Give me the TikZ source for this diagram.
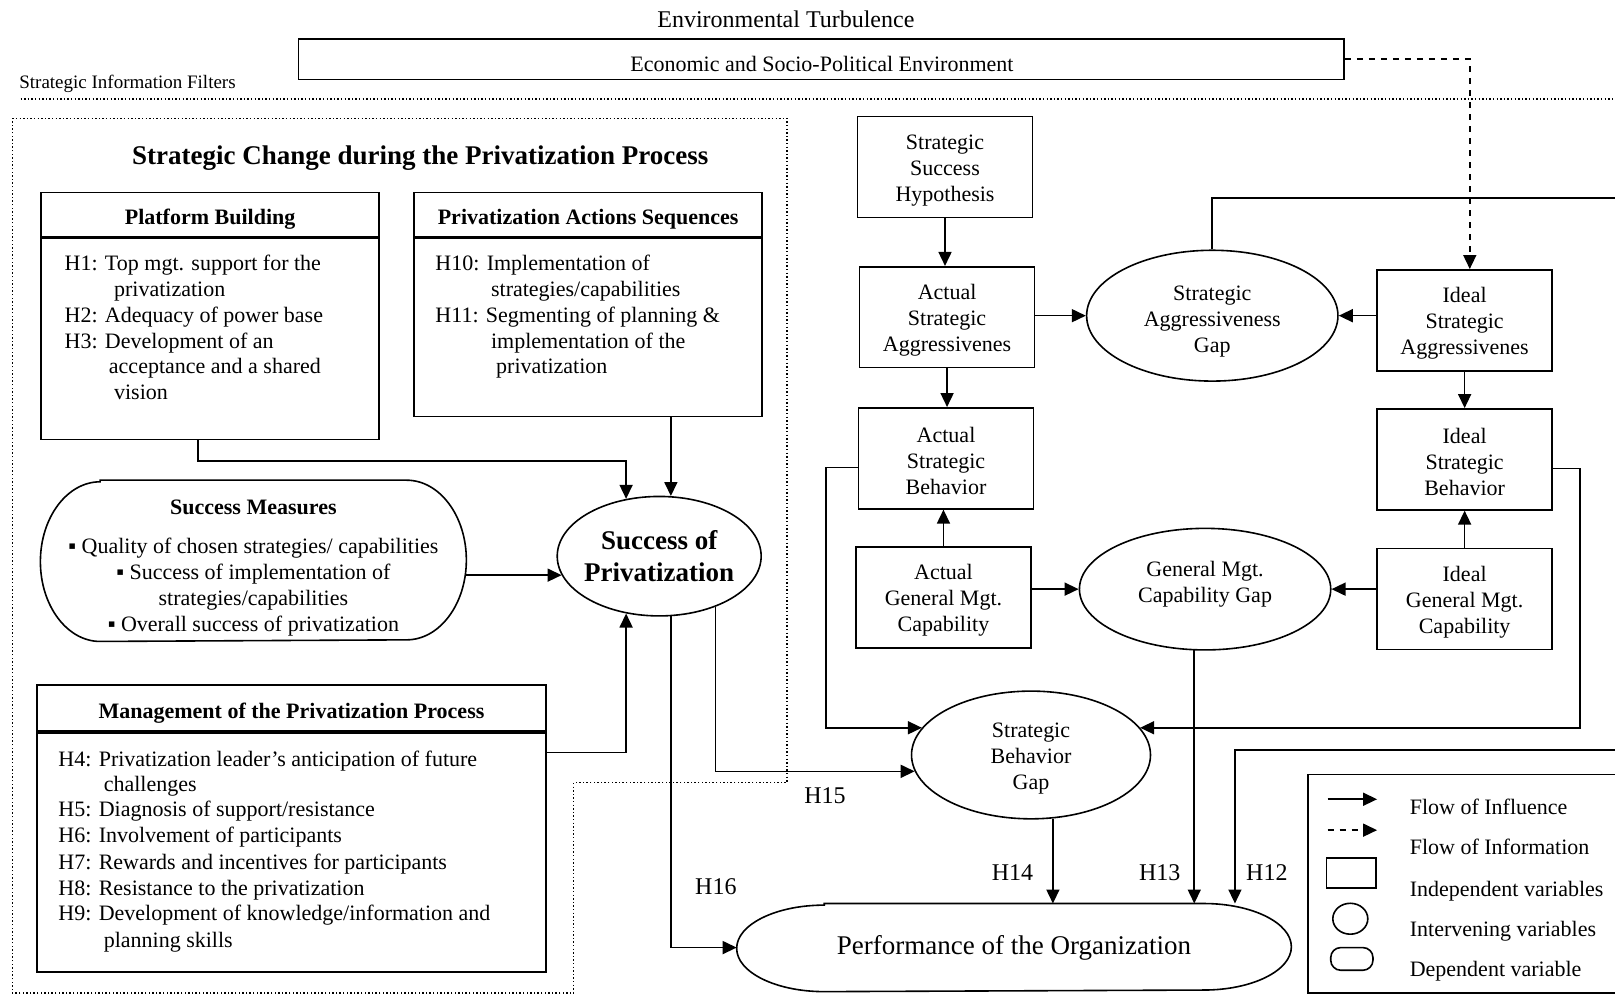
\documentclass[tikz,border=0pt]{standalone}
\usepackage{fontspec}
\setmainfont{Liberation Serif}
\usetikzlibrary{shapes.geometric, arrows.meta}

% one pixel of the layout
\newcommand{\pxu}{0.515pt}
% taller first line, to set the text of a box a little lower
\newcommand{\hup}[1]{\rule{0pt}{#1}}
% outline with half-elliptic ends round an empty node: node, end width, half height
\newcommand{\depoval}[3]{%
    \draw ([xshift=#2]#1.north west) -- ([xshift=-#2]#1.north east)
        arc[start angle=90, end angle=-90, x radius=#2, y radius=#3]
        -- ([xshift=#2]#1.south west)
        arc[start angle=270, end angle=90, x radius=#2, y radius=#3] -- cycle;}

\begin{document}
\begin{tikzpicture}[x=\pxu, y=-\pxu, line width=0.8pt,
        >={Triangle[length=7pt, width=6.5pt]},
        font=\fontsize{11}{13}\selectfont,
        listline/.style={anchor=base west, inner sep=0},
        headbox/.style={draw, inner sep=0, text height=10.2pt, text depth=0pt,
            font=\fontsize{11}{13}\selectfont\bfseries},
        bodybox/.style={draw, inner sep=0, anchor=north},
        indep/.style={draw, inner sep=0, align=center,
            minimum width=170*\pxu, minimum height=98*\pxu},
        interv/.style={draw, ellipse, inner sep=0, align=center},
        hlab/.style={inner sep=0, font=\fontsize{12}{14}\selectfont},
        filterline/.style={line width=0.7pt, dash pattern=on 0.7pt off 1.1pt}]
        \useasboundingbox (0,0) rectangle (1568,967);
        \clip (0,0) rectangle (1568,967);

        % Environment on top
        \node[font=\fontsize{12}{14}\selectfont] (turb) at (763,19) {Environmental Turbulence};
        \node[draw, inner sep=0, minimum width=1015*\pxu, minimum height=39*\pxu] (env) at (797.5,57.5) {};
        \node (envt) at (798,62) {Economic and Socio-Political Environment};
        \node[anchor=west, inner sep=0, font=\fontsize{9.5}{11}\selectfont] (filt) at (18,81) {Strategic Information Filters};
        \draw[filterline] (20,96) -- (1568,96);

        % Dotted frame of the strategic change
        \draw[filterline] (12,115) -- (764,115) -- (764,760) -- (557,760) -- (557,964) -- (12,964) -- cycle;
        \node[font=\fontsize{13.5}{16}\selectfont\bfseries] (sctitle) at (408,154) {Strategic Change during the Privatization Process};

        % Platform Building
        \node[headbox, minimum width=328*\pxu, minimum height=43*\pxu] (pbh) at (204,208.5) {Platform Building};
        \node[bodybox, minimum width=328*\pxu, minimum height=195*\pxu] (pb) at (pbh.south) {};
        \foreach \n/\x/\y/\t in {
            1/62/263/{H1: Top mgt. support for the},
            2/110/288/{privatization},
            3/62/313/{H2: Adequacy of power base},
            4/62/338/{H3: Development of an},
            5/105/363/{acceptance and a shared},
            6/110/388/{vision}
        }
        \node[listline] (pb\n) at (\x,\y) {\t};

        % Privatization Actions Sequences
        \node[headbox, minimum width=338*\pxu, minimum height=43*\pxu] (pash) at (571,208.5) {Privatization Actions Sequences};
        \node[bodybox, minimum width=338*\pxu, minimum height=173*\pxu] (pas) at (pash.south) {};
        \foreach \n/\x/\y/\t in {
            1/422/263/{H10: Implementation of},
            2/476/288/{strategies/capabilities},
            3/422/313/{H11: Segmenting of planning \&},
            4/476/338/{implementation of the},
            5/481/363/{privatization}
        }
        \node[listline] (pas\n) at (\x,\y) {\t};

        % Success Measures
        \node[inner sep=0, minimum width=412*\pxu, minimum height=155*\pxu] (sm) at (246,544.5) {};
        \depoval{sm}{58*\pxu}{77.5*\pxu}
        \node[inner sep=0, align=center] (smt) at (246,551.5)
            {\textbf{Success Measures}\\[6.5pt]
             ▪ Quality of chosen strategies/ capabilities\\
             ▪ Success of implementation of\\
             strategies/capabilities\\
             ▪ Overall success of privatization};

        % Management of the Privatization Process
        \node[headbox, minimum width=494*\pxu, minimum height=45*\pxu] (mgh) at (283,687.5) {Management of the Privatization Process};
        \node[bodybox, minimum width=494*\pxu, minimum height=232*\pxu] (mg) at (mgh.south) {};
        \foreach \n/\x/\y/\t in {
            1/56/744/{H4: Privatization leader’s anticipation of future},
            2/100/768/{challenges},
            3/56/793/{H5: Diagnosis of support/resistance},
            4/56/818/{H6: Involvement of participants},
            5/56/844/{H7: Rewards and incentives for participants},
            6/56/869/{H8: Resistance to the privatization},
            7/56/894/{H9: Development of knowledge/information and},
            8/100/920/{planning skills}
        }
        \node[listline] (mg\n) at (\x,\y) {\t};

        % Success of Privatization
        \node[draw, ellipse, align=center, inner xsep=-4pt, inner ysep=0,
            minimum width=198*\pxu, minimum height=116*\pxu,
            font=\fontsize{13.5}{16}\selectfont\bfseries] (sp) at (640,540) {Success of\\Privatization};
        \draw[->] ([xshift=-12*\pxu]pb.south) -- ++(0,20) -| (sp.120);
        \draw[->] (pas.south -| sp.79) -- (sp.79);
        \draw[->] (sm.east |- sp.191) -- (sp.191);
        \draw[->] ([yshift=-20*\pxu]mg.north east) -| (sp.240);

        % Independent variables
        \node[indep] (ssh) at (917.5,162) {\hup{10.7pt}Strategic\\Success\\Hypothesis};
        \node[indep] (asa) at (919.5,308) {\hup{10.7pt}Actual\\Strategic\\Aggressivenes};
        \node[indep] (asb) at (918.5,445) {\hup{10.7pt}Actual\\Strategic\\Behavior};
        \node[indep] (agmc) at (916,580) {\hup{10.7pt}Actual\\General Mgt.\\Capability};
        \node[indep] (isa) at (1422,311) {\hup{10.7pt}Ideal\\Strategic\\Aggressivenes};
        \node[indep] (isb) at (1422,446) {\hup{10.7pt}Ideal\\Strategic\\Behavior};
        \node[indep] (igmc) at (1422,581.5) {\hup{10.7pt}Ideal\\General Mgt.\\Capability};

        % Intervening variables
        \node[interv, minimum width=244*\pxu, minimum height=127*\pxu] (sag) at (1177,306.5) {\hup{13.1pt}Strategic\\Aggressiveness\\Gap};
        \node[interv, minimum width=244*\pxu, minimum height=118*\pxu] (gmcg) at (1170,572) {General Mgt.\\Capability Gap\rule[-7.6pt]{0pt}{0pt}};
        \node[interv, minimum width=232*\pxu, minimum height=124*\pxu] (sbg) at (1001,733) {\hup{10.7pt}Strategic\\Behavior\\Gap};

        % Dependent variable
        \node[inner sep=0, minimum width=537*\pxu, minimum height=84*\pxu,
            font=\fontsize{13.5}{16}\selectfont] (perf) at (984.5,920) {Performance of the Organization};
        \depoval{perf}{85*\pxu}{42*\pxu}

        % Flow of influence on the right
        \draw[->] (ssh.south) -- (ssh.south |- asa.north);
        \draw[->] (asa.south) -- (asa.south |- asb.north);
        \draw[->] (agmc.north) -- (agmc.north |- asb.south);
        \draw[->] (isa.south) -- (isb.north);
        \draw[->] (igmc.north) -- (isb.south);
        \draw[->] (asa.east |- sag.west) -- (sag.west);
        \draw[->] (isa.west |- sag.east) -- (sag.east);
        \draw[->] (agmc.east |- gmcg.west) -- (gmcg.west);
        \draw[->] (igmc.west |- gmcg.east) -- (gmcg.east);
        \draw[->] ([yshift=-9*\pxu]asb.west) -- ++(-31,0) |- (sbg.166);
        \draw[->] ([yshift=-9*\pxu]isb.east) -- ++(26,0) |- (sbg.14);
        \draw[dashed, ->] (env.east) -| ([xshift=5*\pxu]isa.north);

        % Paths to the performance
        \coordinate (rtop) at (1575,192);
        \coordinate (rbot) at (1575,728);
        \coordinate (h12c) at (1199,728);
        \draw (sag.north) |- (rtop);
        \draw[->] (rbot) -- (h12c) -- (h12c |- perf.north);
        \draw[->] (gmcg.260) -- (gmcg.260 |- perf.north);
        \draw[->] (sbg.289) -- (sbg.289 |- perf.north);
        \draw[->] (sp.281) |- (perf.west);
        \draw[->] (sp.318) |- (sbg.188);
        \node[hlab] (h12) at (1230,847) {H12};
        \node[hlab] (h13) at (1126,847) {H13};
        \node[hlab] (h14) at (983,847) {H14};
        \node[hlab] (h15) at (801,773) {H15};
        \node[hlab] (h16) at (695,861) {H16};

        % Legend
        \draw (1270,752) rectangle (1580,964);
        \draw[->] (1289,776) -- (1337,776);
        \draw[dashed, ->] (1289,806) -- (1337,806);
        \draw (1288,833) rectangle (1336,862);
        \draw (1311,892) ellipse [x radius=17, y radius=15];
        \draw[rounded corners=5pt] (1292,920) rectangle (1333,942);
        \foreach \n/\y/\t in {
            1/791/{Flow of Influence},
            2/830/{Flow of Information},
            3/870/{Independent variables},
            4/909/{Intervening variables},
            5/948/{Dependent variable}
        }
        \node[listline] (leg\n) at (1368,\y) {\t};
\end{tikzpicture}
\end{document}
